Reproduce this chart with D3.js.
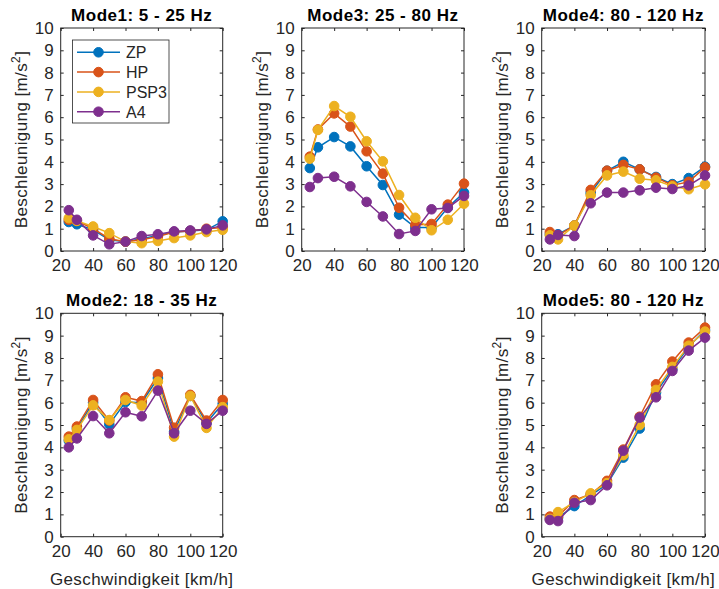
<!DOCTYPE html>
<html>
<head>
<meta charset="utf-8">
<script src="https://cdn.jsdelivr.net/npm/d3@7/dist/d3.min.js"></script>
<style>
  html, body { margin: 0; padding: 0; background: #fff; }
  svg { display: block; font-family: "Liberation Sans", Arial, sans-serif; }
</style>
</head>
<body>
<svg id="chart" width="719" height="589"></svg>
<script>
// Speeds (km/h) at which the accelerations were measured
const speeds = [25, 30, 40, 50, 60, 70, 80, 90, 100, 110, 120];
const seriesNames = ["ZP", "HP", "PSP3", "A4"];
const seriesColors = ["#0072BD", "#D95319", "#EDB120", "#7E2F8E"];
const yTicks = [0, 1, 2, 3, 4, 5, 6, 7, 8, 9, 10];
const xTicks = [20, 40, 60, 80, 100, 120];

// Mode 1: 5 - 25 Hz
const mode1ZP   = [1.30, 1.20, 0.95, 0.50, 0.42, 0.55, 0.70, 0.85, 0.90, 0.95, 1.33];
const mode1HP   = [1.40, 1.35, 1.00, 0.55, 0.42, 0.50, 0.65, 0.85, 0.90, 1.00, 1.05];
const mode1PSP3 = [1.47, 1.35, 1.10, 0.80, 0.42, 0.35, 0.45, 0.58, 0.70, 0.85, 0.95];
const mode1A4   = [1.83, 1.40, 0.70, 0.30, 0.42, 0.67, 0.75, 0.88, 0.92, 0.97, 1.15];

// Mode 3: 25 - 80 Hz
const mode3ZP   = [3.72, 4.65, 5.11, 4.69, 3.80, 2.96, 1.63, 1.05, 1.05, 1.95, 2.62];
const mode3HP   = [4.23, 5.45, 6.17, 5.58, 4.47, 3.47, 1.94, 1.17, 1.21, 2.08, 3.02];
const mode3PSP3 = [4.14, 5.43, 6.50, 6.02, 4.92, 4.02, 2.51, 1.49, 0.93, 1.40, 2.12];
const mode3A4   = [2.87, 3.27, 3.33, 2.90, 2.20, 1.55, 0.76, 0.90, 1.87, 1.93, 2.47];

// Mode 4: 80 - 120 Hz
const mode4ZP   = [0.75, 0.75, 1.14, 2.60, 3.60, 4.00, 3.66, 3.32, 3.00, 3.27, 3.78];
const mode4HP   = [0.85, 0.70, 1.14, 2.74, 3.60, 3.86, 3.66, 3.29, 2.95, 3.10, 3.75];
const mode4PSP3 = [0.70, 0.52, 1.14, 2.50, 3.39, 3.56, 3.24, 3.17, 2.90, 2.77, 2.99];
const mode4A4   = [0.52, 0.72, 0.67, 2.14, 2.62, 2.62, 2.72, 2.84, 2.78, 2.94, 3.39];

// Mode 2: 18 - 35 Hz
const mode2ZP   = [4.30, 4.85, 6.00, 5.03, 6.03, 6.00, 7.10, 4.70, 6.30, 5.10, 5.95];
const mode2HP   = [4.48, 4.93, 6.12, 5.20, 6.24, 6.07, 7.27, 4.88, 6.35, 5.20, 6.12];
const mode2PSP3 = [4.36, 4.78, 5.88, 5.22, 6.12, 5.87, 6.94, 4.48, 6.30, 4.87, 5.80];
const mode2A4   = [4.00, 4.40, 5.40, 4.63, 5.57, 5.39, 6.54, 4.63, 5.64, 5.05, 5.64];

// Mode 5: 80 - 120 Hz
const mode5ZP   = [0.80, 0.85, 1.37, 1.85, 2.35, 3.54, 4.84, 6.45, 7.50, 8.50, 9.25];
const mode5HP   = [0.90, 0.90, 1.64, 1.90, 2.50, 3.90, 5.37, 6.82, 7.84, 8.69, 9.36];
const mode5PSP3 = [0.80, 1.10, 1.55, 1.94, 2.40, 3.65, 5.00, 6.57, 7.60, 8.55, 9.18];
const mode5A4   = [0.75, 0.70, 1.52, 1.64, 2.30, 3.85, 5.33, 6.24, 7.42, 8.33, 8.91];

const titles = ["Mode1: 5 - 25 Hz", "Mode3: 25 - 80 Hz", "Mode4: 80 - 120 Hz",
                "Mode2: 18 - 35 Hz", "Mode5: 80 - 120 Hz"];

// Subplot frames: [left, top, right, bottom]
const panels = [
  { title: titles[0], box: [60.7, 28, 222.7, 251],    data: [mode1ZP, mode1HP, mode1PSP3, mode1A4], legend: true,  xlabel: false },
  { title: titles[1], box: [301.7, 28, 464, 251],     data: [mode3ZP, mode3HP, mode3PSP3, mode3A4], legend: false, xlabel: false },
  { title: titles[2], box: [541.7, 28, 705, 251],     data: [mode4ZP, mode4HP, mode4PSP3, mode4A4], legend: false, xlabel: false },
  { title: titles[3], box: [60.7, 313.3, 222.7, 536.7], data: [mode2ZP, mode2HP, mode2PSP3, mode2A4], legend: false, xlabel: true },
  { title: titles[4], box: [541.7, 313.3, 705, 536.7],  data: [mode5ZP, mode5HP, mode5PSP3, mode5A4], legend: false, xlabel: true }
];

const svg = d3.select("#chart");
const axisColor = "#262626";
const tickFont = 17;
const labelFont = 17;
const markerR = 4.8;

panels.forEach(p => {
  const [l, t, r, b] = p.box;
  const x = d3.scaleLinear().domain([20, 120]).range([l, r]);
  const y = d3.scaleLinear().domain([0, 10]).range([b, t]);
  const g = svg.append("g");

  // inward ticks on all four sides
  const tickLen = 3;
  const axes = [
    d3.axisBottom(x).tickValues(xTicks).tickSizeInner(-tickLen).tickSizeOuter(0).tickPadding(8),
    d3.axisTop(x).tickValues(xTicks).tickSizeInner(-tickLen).tickSizeOuter(0).tickFormat(""),
    d3.axisLeft(y).tickValues(yTicks).tickSizeInner(-tickLen).tickSizeOuter(0).tickPadding(7),
    d3.axisRight(y).tickValues(yTicks).tickSizeInner(-tickLen).tickSizeOuter(0).tickFormat("")
  ];
  const offs = [[0, b], [0, t], [l, 0], [r, 0]];
  axes.forEach((ax, i) => {
    const ag = g.append("g").attr("transform", `translate(${offs[i][0]},${offs[i][1]})`).call(ax);
    ag.select(".domain").remove();
    ag.selectAll(".tick line").attr("stroke", axisColor).attr("stroke-width", 1);
    ag.selectAll(".tick text").attr("fill", axisColor).attr("font-size", tickFont)
      .attr("font-family", "Liberation Sans, Arial, sans-serif");
  });
  g.append("rect").attr("x", l).attr("y", t).attr("width", r - l).attr("height", b - t)
    .attr("fill", "none").attr("stroke", axisColor).attr("stroke-width", 1);

  // series
  const line = d3.line().x((d, i) => x(speeds[i])).y(d => y(d));
  p.data.forEach((vals, si) => {
    const sg = g.append("g");
    sg.append("path").datum(vals).attr("d", line).attr("fill", "none")
      .attr("stroke", seriesColors[si]).attr("stroke-width", 1.5);
    sg.selectAll("circle").data(vals).join("circle")
      .attr("cx", (d, i) => x(speeds[i])).attr("cy", d => y(d)).attr("r", markerR)
      .attr("fill", seriesColors[si]).attr("stroke", seriesColors[si]).attr("stroke-width", 1);
  });

  // title
  g.append("text").attr("x", (l + r) / 2).attr("y", t - 7.5).attr("text-anchor", "middle")
    .attr("font-weight", "bold").attr("font-size", 17).attr("letter-spacing", 0.5)
    .attr("fill", "#000").text(p.title);

  // y label
  const yl = g.append("text")
    .attr("transform", `translate(${l - 34},${(t + b) / 2}) rotate(-90)`)
    .attr("text-anchor", "middle").attr("font-size", labelFont).attr("letter-spacing", 0.4)
    .attr("fill", axisColor);
  yl.append("tspan").text("Beschleunigung [m/s");
  yl.append("tspan").attr("dy", -7).attr("font-size", 12).text("2");
  yl.append("tspan").attr("dy", 7).text("]");

  if (p.xlabel) {
    g.append("text").attr("x", (l + r) / 2).attr("y", b + 48).attr("text-anchor", "middle")
      .attr("font-size", labelFont).attr("letter-spacing", 0.4)
      .attr("fill", axisColor).text("Geschwindigkeit [km/h]");
  }

  if (p.legend) {
    const lx = 72.5, ly = 40, lw = 96.5, lh = 83;
    const lg = g.append("g");
    lg.append("rect").attr("x", lx).attr("y", ly).attr("width", lw).attr("height", lh)
      .attr("fill", "#fff").attr("stroke", axisColor).attr("stroke-width", 0.8);
    seriesNames.forEach((name, si) => {
      const cy = ly + 12.3 + si * 19.8;
      lg.append("line").attr("x1", lx + 4.5).attr("x2", lx + 47.5).attr("y1", cy).attr("y2", cy)
        .attr("stroke", seriesColors[si]).attr("stroke-width", 1.5);
      lg.append("circle").attr("cx", lx + 26).attr("cy", cy).attr("r", markerR)
        .attr("fill", seriesColors[si]).attr("stroke", seriesColors[si]);
      lg.append("text").attr("x", lx + 53.5).attr("y", cy + 5.8).attr("font-size", 16)
        .attr("fill", axisColor).text(name);
    });
  }
});
</script>
</body>
</html>
